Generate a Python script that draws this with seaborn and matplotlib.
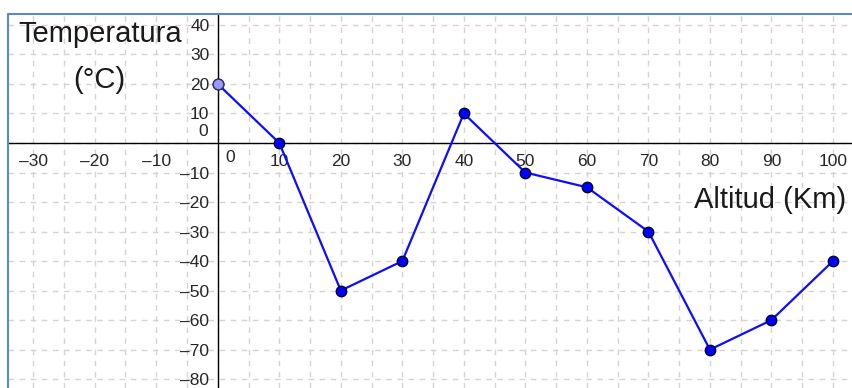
import numpy as np
import pandas as pd
import matplotlib.pyplot as plt
import seaborn as sns
from matplotlib.lines import Line2D
from matplotlib.ticker import MultipleLocator

altitud = [0, 10, 20, 30, 40, 50, 60, 70, 80, 90, 100]
temperatura = [20, 0, -50, -40, 10, -10, -15, -30, -70, -60, -40]
x_ticks = [-30, -20, -10, 10, 20, 30, 40, 50, 60, 70, 80, 90, 100]
y_ticks = [-80, -70, -60, -50, -40, -30, -20, -10, 10, 20, 30, 40]

df = pd.DataFrame({'Altitud': altitud, 'Temperatura': temperatura})

sns.set_style('white')
plt.rcParams['font.family'] = ['Liberation Sans', 'DejaVu Sans']

fig = plt.figure(figsize=(8.52, 3.88), dpi=100)
ax = fig.add_axes([8 / 852, 0, 844 / 852, 374 / 388])
ax.set_xlim(-34.1, 103.1)
ax.set_ylim(-83, 43.7)

# grid
ax.xaxis.set_minor_locator(MultipleLocator(5))
ax.yaxis.set_minor_locator(MultipleLocator(5))
for gx in np.arange(-30, 105, 5):
    ax.axvline(gx, color='#d4d4d4', lw=1, ls=(0, (4, 4)), zorder=0)
for gy in np.arange(-80, 45, 10):
    ax.axhline(gy, color='#d4d4d4', lw=1, ls=(0, (4, 4)), zorder=0)

# axes through origin
for s in ['top', 'right']:
    ax.spines[s].set_visible(False)
ax.spines['left'].set_position(('data', 0))
ax.spines['bottom'].set_position(('data', 0))
ax.spines['left'].set_color('black')
ax.spines['bottom'].set_color('black')
ax.spines['left'].set_linewidth(1)
ax.spines['bottom'].set_linewidth(1)

tick_fs = 12.5
ax.set_xticks(x_ticks)
ax.set_xticklabels([str(t).replace('-', '\u2013') for t in x_ticks], fontsize=tick_fs)
ax.set_yticks(y_ticks)
ax.set_yticklabels([str(t).replace('-', '\u2013') for t in y_ticks], fontsize=tick_fs)
ax.tick_params(axis='both', which='major', direction='inout', length=6, width=1, color='black')
ax.tick_params(axis='both', which='minor', direction='inout', length=3, width=1, color='black')
ax.tick_params(axis='x', pad=5)
ax.tick_params(axis='y', pad=3)
ax.text(1.3, -2.3, '0', fontsize=tick_fs, ha='left', va='top')
ax.text(-1.6, 1.5, '0', fontsize=tick_fs, ha='right', va='bottom')

sns.lineplot(data=df, x='Altitud', y='Temperatura', ax=ax, color='#0d0dff', lw=1.6,
             marker='o', markersize=7.5, markerfacecolor='#0000ff',
             markeredgecolor='#000033', markeredgewidth=1, zorder=3)
sns.scatterplot(data=df.iloc[:1], x='Altitud', y='Temperatura', ax=ax, s=60,
                color='#9999ff', edgecolor='#333366', linewidth=1, zorder=4)
ax.set_xlabel('')
ax.set_ylabel('')

ax.text(-32.4, 37.0, 'Temperatura', fontsize=21, ha='left', va='center', color='#1a1a1a')
ax.text(-19.2, 21.5, '(°C)', fontsize=21, ha='center', va='center', color='#1a1a1a')
ax.text(102.2, -19.3, 'Altitud (Km)', fontsize=21, ha='right', va='center', color='#1a1a1a')

# window border
fig.add_artist(Line2D([8 / 852, 1], [1 - 14 / 388, 1 - 14 / 388], color='#5a8ac8', lw=1.5))
fig.add_artist(Line2D([8 / 852, 8 / 852], [0, 1 - 14 / 388], color='#5a8ac8', lw=1.5))

fig.savefig('out.png', dpi=100)
